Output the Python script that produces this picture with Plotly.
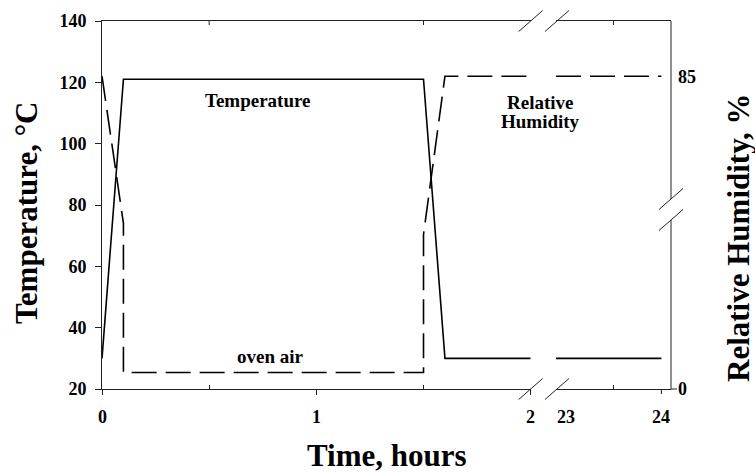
import plotly.graph_objects as go

# ---- data ----
time_a = [0, 0.1, 1.5, 1.6, 2]
temp_a = [30, 121, 121, 30, 30]
time_b = [22.9, 24]
temp_b = [30, 30]

rh_time_a = [0, 0.1, 0.1, 1.5, 1.5, 1.6, 2]
rh_a = [85, 45, 4.5, 4.5, 42, 85, 85]
rh_time_b = [22.9, 24]
rh_b = [85, 85]

temp_ticks = [20, 40, 60, 80, 100, 120, 140]
x_ticks_a = [0, 1, 2]
x_minor_a = [0.5, 1.5]
x_ticks_b = [23, 24]
x_minor_b = [23.5]
rh_ticks = [0, 85]

FONT = "Liberation Serif"
LINE = "#222"
W, H = 569.0, 368.0  # plot area size in px

fig = go.Figure()
dash = "25px,9px"
fig.add_trace(go.Scatter(x=time_a, y=temp_a, mode="lines", xaxis="x", yaxis="y",
                         line=dict(color="black", width=1.6), showlegend=False))
fig.add_trace(go.Scatter(x=time_b, y=temp_b, mode="lines", xaxis="x2", yaxis="y",
                         line=dict(color="black", width=1.6), showlegend=False))
fig.add_trace(go.Scatter(x=rh_time_a, y=rh_a, mode="lines", xaxis="x", yaxis="y2",
                         line=dict(color="black", width=1.6, dash=dash), showlegend=False))
fig.add_trace(go.Scatter(x=rh_time_b, y=rh_b, mode="lines", xaxis="x2", yaxis="y2",
                         line=dict(color="black", width=1.6, dash=dash), showlegend=False))

tickfont = dict(family=FONT, size=18, color="black", weight="bold")

fig.update_layout(
    width=755, height=472,
    margin=dict(l=102, r=84, t=21, b=83),
    plot_bgcolor="white", paper_bgcolor="white",
    xaxis=dict(domain=[0, 0.7534], range=[0, 2], tickvals=x_ticks_a,
               ticks="outside", ticklen=5, tickcolor=LINE, tickwidth=1,
               minor=dict(tickvals=x_minor_a, ticks="inside", ticklen=4, tickcolor=LINE),
               showline=True, linecolor=LINE, linewidth=1, mirror=True,
               showgrid=False, zeroline=False, showticklabels=False, anchor="y"),
    xaxis2=dict(domain=[0.7979, 1], range=[22.9, 24.1], tickvals=x_ticks_b,
                ticks="", minor=dict(tickvals=x_minor_b, ticks="inside", ticklen=4, tickcolor=LINE),
                showline=True, linecolor=LINE, linewidth=1, mirror=True,
                showgrid=False, zeroline=False, showticklabels=False, anchor="y"),
    yaxis=dict(range=[20, 140], tickvals=temp_ticks, ticks="outside", ticklen=6,
               tickcolor=LINE, showline=True, linecolor=LINE, linewidth=1,
               showgrid=False, zeroline=False, tickfont=tickfont,
               ticklabelstandoff=5),
    yaxis2=dict(range=[0, 100], tickvals=rh_ticks, overlaying="y", side="right",
                ticks="", showline=False, showgrid=False, zeroline=False,
                tickfont=tickfont, ticklabelstandoff=6, anchor="x2"),
)

shapes = []
lw = dict(color=LINE, width=1)
# right border with a break
y_b1 = (389 - 199) / H
y_b2 = (389 - 220) / H
shapes.append(dict(type="line", xref="paper", yref="paper", x0=1, x1=1, y0=y_b1, y1=1, line=lw))
shapes.append(dict(type="line", xref="paper", yref="paper", x0=1, x1=1, y0=0, y1=y_b2, line=lw))
# tick at RH 0 on right axis
shapes.append(dict(type="line", xref="paper", yref="paper", x0=1, x1=1 + 6 / W, y0=0, y1=0, line=lw))
# major tick at 24 (outside)
shapes.append(dict(type="line", xref="x2", yref="paper", x0=24, x1=24, y0=0, y1=-5 / H, line=lw))
# top minor ticks (inside)
for v in x_minor_a:
    shapes.append(dict(type="line", xref="x", yref="paper", x0=v, x1=v, y0=1, y1=1 - 4 / H, line=lw))
for v in x_minor_b:
    shapes.append(dict(type="line", xref="x2", yref="paper", x0=v, x1=v, y0=1, y1=1 - 4 / H, line=lw))
# break slashes
dx, dy = 12 / W, 10.5 / H
for xc in (0.7534, 0.7996):
    for yc in (0, 1):
        shapes.append(dict(type="line", xref="paper", yref="paper",
                           x0=xc - dx, x1=xc + dx, y0=yc - dy, y1=yc + dy, line=lw))
for yc in (y_b1, y_b2):
    shapes.append(dict(type="line", xref="paper", yref="paper",
                       x0=1 - dx, x1=1 + dx, y0=yc - dy, y1=yc + dy, line=lw))
fig.update_layout(shapes=shapes)

# x tick labels (placed on the axis scales)
label_y = -28 / H
for v in x_ticks_a:
    fig.add_annotation(x=v, xref="x", y=label_y, yref="paper", text=str(v),
                       showarrow=False, font=tickfont, xanchor="center", yanchor="middle")
for v in x_ticks_b:
    fig.add_annotation(x=v, xref="x2", y=label_y, yref="paper", text=str(v),
                       showarrow=False, font=tickfont, xanchor="center", yanchor="middle")

annfont = dict(family=FONT, size=19, color="black", weight="bold")
titlefont = dict(family=FONT, size=31, color="black", weight="bold")
anns = [
    dict(text="Temperature", x=(258 - 102) / W, y=(389 - 101) / H, font=annfont),
    dict(text="oven air", x=(270 - 102) / W, y=(389 - 356) / H, font=annfont),
    dict(text="Relative", x=(540 - 102) / W, y=(389 - 102) / H, font=annfont),
    dict(text="Humidity", x=(540 - 102) / W, y=(389 - 121) / H, font=annfont),
    dict(text="Time, hours", x=(387 - 102) / W, y=(389 - 455) / H, font=titlefont),
    dict(text="Temperature, °C", x=(26 - 102) / W, y=(389 - 213) / H, font=titlefont, textangle=-90),
    dict(text="Relative Humidity, %", x=(738 - 102) / W, y=(389 - 238) / H, font=titlefont, textangle=-90),
]
for a in anns:
    fig.add_annotation(xref="paper", yref="paper", showarrow=False,
                       xanchor="center", yanchor="middle", **a)

fig.write_html("out.html")
